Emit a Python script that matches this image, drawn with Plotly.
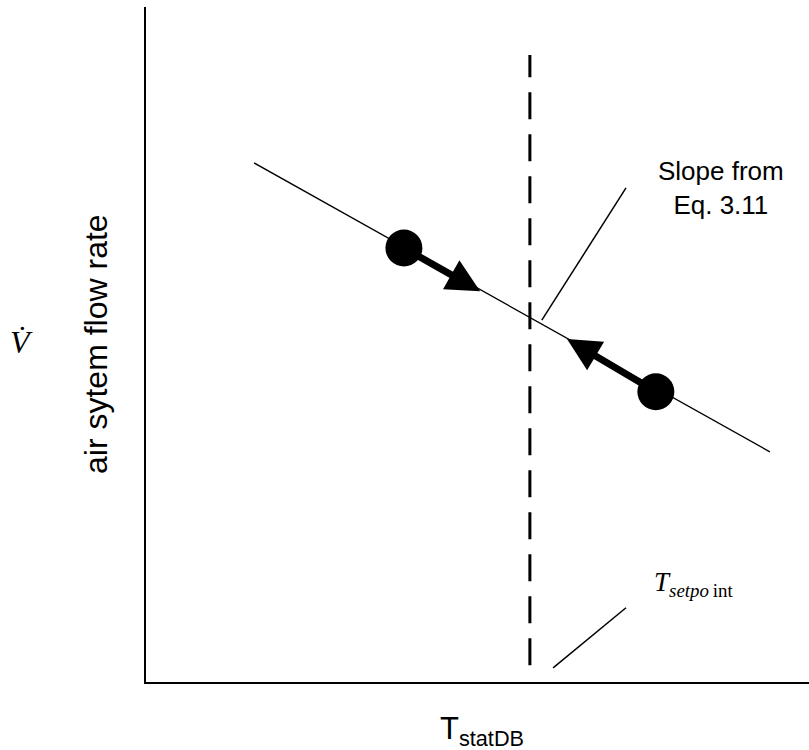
import plotly.graph_objects as go

# Schematic coordinates (arbitrary units, axes span 0..100)
control_x = [16.3, 94.1]
control_y = [76.9, 34.1]

setpoint_x = 57.9
setpoint_y = [2.5, 92.9]

state_x = [38.9, 76.9]
state_y = [64.3, 43.0]

arrow_tip_x = [50.4, 63.5]
arrow_tip_y = [57.9, 50.8]

slope_leader_x = [59.7, 72.4]
slope_leader_y = [53.6, 73.2]

setpoint_leader_x = [61.4, 72.4]
setpoint_leader_y = [2.1, 11.0]

W, H = 809, 750
L, R, T, B = 146, 0, 7, 68
PW, PH = W - L - R, H - T - B


def px(xp):
    return (xp - L) / PW


def py(yp):
    return (H - B - yp) / PH


fig = go.Figure()

# control line
fig.add_trace(go.Scatter(x=control_x, y=control_y, mode="lines",
                         line=dict(color="black", width=1.3),
                         hoverinfo="skip", showlegend=False))

# setpoint (dashed vertical)
fig.add_trace(go.Scatter(x=[setpoint_x, setpoint_x], y=setpoint_y, mode="lines",
                         line=dict(color="black", width=3, dash="27px,15px"),
                         hoverinfo="skip", showlegend=False))

# leader lines
for lx, ly in [(slope_leader_x, slope_leader_y), (setpoint_leader_x, setpoint_leader_y)]:
    fig.add_trace(go.Scatter(x=lx, y=ly, mode="lines",
                             line=dict(color="black", width=1.5),
                             hoverinfo="skip", showlegend=False))

# operating points
fig.add_trace(go.Scatter(x=state_x, y=state_y, mode="markers",
                         marker=dict(color="black", size=37),
                         hoverinfo="skip", showlegend=False))

# movement arrows towards the setpoint
for sx, sy, tx, ty in zip(state_x, state_y, arrow_tip_x, arrow_tip_y):
    fig.add_annotation(x=tx, y=ty, ax=sx, ay=sy, xref="x", yref="y",
                       axref="x", ayref="y", text="", showarrow=True,
                       arrowhead=2, arrowwidth=7, arrowsize=0.95,
                       arrowcolor="black")

sans = "Liberation Sans, Arial, sans-serif"
serif = "Liberation Serif, Times New Roman, serif"

fig.add_annotation(x=86.7, y=73.2, xref="x", yref="y",
                   text="Slope from<br>Eq. 3.11", showarrow=False,
                   xanchor="center", yanchor="middle",
                   font=dict(family=sans, size=26, color="black"), align="center")

fig.add_annotation(x=px(693), y=py(584), xref="paper", yref="paper",
                   text="<i>T</i><sub><i>setpo</i>\u2009int</sub>", showarrow=False,
                   xanchor="center", yanchor="middle",
                   font=dict(family=serif, size=27, color="black"))

fig.add_annotation(x=px(482), y=py(731), xref="paper", yref="paper",
                   text="T<sub>statDB</sub>", showarrow=False,
                   xanchor="center", yanchor="middle",
                   font=dict(family=sans, size=31, color="black"))

fig.add_annotation(x=px(96), y=py(344), xref="paper", yref="paper",
                   text="air sytem flow rate", showarrow=False, textangle=-90,
                   xanchor="center", yanchor="middle",
                   font=dict(family=sans, size=32, color="black"))

fig.add_annotation(x=px(21), y=py(342), xref="paper", yref="paper",
                   text="<i>V\u0307</i>", showarrow=False,
                   xanchor="center", yanchor="middle",
                   font=dict(family=serif, size=32, color="black"))

axis_common = dict(showgrid=False, zeroline=False, showticklabels=False,
                   ticks="", showline=True, linecolor="black", linewidth=2,
                   fixedrange=True)
fig.update_xaxes(range=[0, 100], **axis_common)
fig.update_yaxes(range=[0, 100], **axis_common)

fig.update_layout(width=W, height=H,
                  margin=dict(l=L, r=R, t=T, b=B),
                  plot_bgcolor="white", paper_bgcolor="white")

fig.write_html("out.html")
